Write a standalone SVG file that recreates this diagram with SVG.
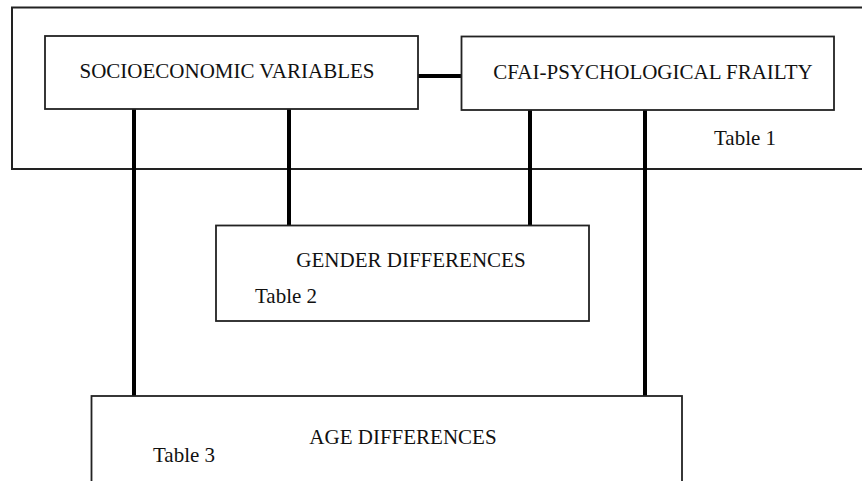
<svg xmlns="http://www.w3.org/2000/svg" width="862" height="481" viewBox="0 0 862 481">
<style>
.box{fill:#fff;stroke:#222;stroke-width:1.8}
.frame{fill:none;stroke:#222;stroke-width:2}
.lbl{font-family:"Liberation Serif","Times New Roman",serif;font-size:21px;fill:#111}
.conn{stroke:#000;stroke-width:4;fill:none}
</style>
<rect class="frame" x="12" y="7.5" width="860" height="161.5"/>
<g id="connectors">
<line class="conn" x1="418" y1="76" x2="468" y2="76"/>
<line class="conn" x1="134" y1="109" x2="134" y2="396"/>
<line class="conn" x1="289" y1="109" x2="289" y2="225"/>
<line class="conn" x1="530" y1="110" x2="530" y2="225"/>
<line class="conn" x1="645" y1="110" x2="645" y2="396"/>
</g>
<g id="socioeconomic">
<rect class="box" x="45" y="36" width="373" height="73"/>
<text class="lbl" x="227" y="78" text-anchor="middle">SOCIOECONOMIC VARIABLES</text>
</g>
<g id="cfai">
<rect class="box" x="461.5" y="36.5" width="372.5" height="73.5"/>
<text class="lbl" x="653" y="79" text-anchor="middle">CFAI-PSYCHOLOGICAL FRAILTY</text>
</g>
<g id="table1">
<text class="lbl" x="714" y="145">Table 1</text>
</g>
<g id="gender">
<rect class="box" x="216" y="225.5" width="373" height="95.5"/>
<text class="lbl" x="411" y="267" text-anchor="middle">GENDER DIFFERENCES</text>
<text class="lbl" x="255" y="303">Table 2</text>
</g>
<g id="age">
<rect class="box" x="91.5" y="396" width="590.5" height="90"/>
<text class="lbl" x="403" y="444" text-anchor="middle">AGE DIFFERENCES</text>
<text class="lbl" x="153" y="462">Table 3</text>
</g>
</svg>
